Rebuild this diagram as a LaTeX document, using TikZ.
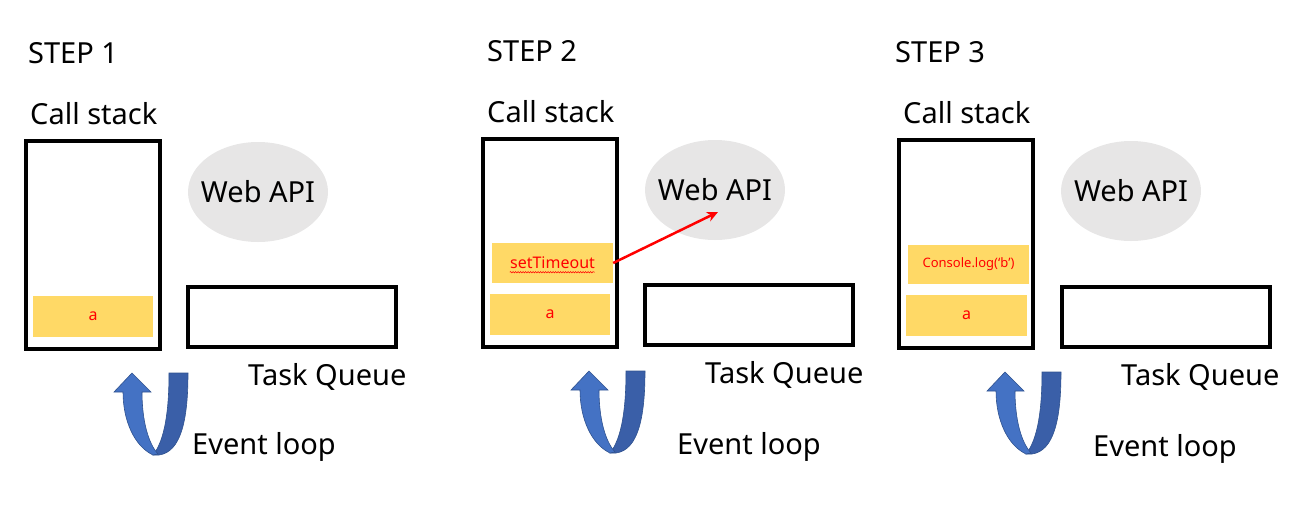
\documentclass[tikz,border=0pt]{standalone}
\usepackage{fontspec}
\setmainfont{Noto Sans}
\usetikzlibrary{arrows.meta,decorations.pathmorphing}

\definecolor{jobyellow}{HTML}{FFD966}
\definecolor{apigray}{HTML}{E7E6E6}
\definecolor{loopblue}{HTML}{4472C4}
\definecolor{loopdark}{HTML}{3A5FA8}
\definecolor{loopedge}{HTML}{2F528F}

\tikzset{
  bigtext/.style={font=\fontsize{29}{31}\selectfont, anchor=base west, inner sep=0pt},
  stackbox/.style={draw, line width=4pt, minimum width=134pt, minimum height=208pt, inner sep=0pt},
  queuebox/.style={draw, line width=4pt, minimum width=208pt, minimum height=60pt, inner sep=0pt},
  apitext/.style={inner sep=0pt, font=\fontsize{29}{31}\selectfont},
  job/.style={fill=jobyellow, text=red, minimum width=121pt, minimum height=41pt, inner sep=0pt, font=\fontsize{16}{18}\selectfont},
  loopback/.style={fill=loopdark, draw=loopedge, line width=0.6pt},
  loopfront/.style={fill=loopblue, draw=loopedge, line width=0.6pt},
}

\begin{document}
\begin{tikzpicture}[x=1pt,y=-1pt]
\useasboundingbox (0,0) rectangle (1314,520);

% paso 1
\begin{scope}
  \node[bigtext] (step1) at (28,63) {STEP 1};
  \node[bigtext] (calltxt1) at (30,124) {Call stack};
  \node[stackbox] (stack1) at (93,245) {};
  \fill[apigray] (258,192) ellipse [x radius=70pt, y radius=50pt];
  \node[apitext] (api1) at (258,192) {Web API};
  \node[queuebox] (queue1) at (292,317) {};
  \node[bigtext] (queuetxt1) at (248,385) {Task Queue};
  \node[job, minimum width=120pt] (a1) at (93,316.5) {a};
  % event loop
  \draw[loopback] (169,373) -- (188,373) .. controls (188,420) and (181,452) .. (159,455)
    -- (153,455) .. controls (165,440) and (169,410) .. (169,373) -- cycle;
  \draw[loopfront] (132,373) -- (151,392) -- (142,392) .. controls (142,420) and (148,443) .. (158,454)
    -- (153,455) .. controls (134,446) and (123,420) .. (123,392) -- (114,392) -- cycle;
  \node[bigtext] (looptxt1) at (192,454) {Event loop};
\end{scope}

% paso 2
\begin{scope}[shift={(457,-2)}]
  \node[bigtext] (step2) at (30,63) {STEP 2};
  \node[bigtext] (calltxt2) at (30,124) {Call stack};
  \node[stackbox] (stack2) at (93,245) {};
  \fill[apigray] (258,192) ellipse [x radius=70pt, y radius=50pt];
  \node[apitext] (api2) at (258,192) {Web API};
  \node[queuebox] (queue2) at (292,317) {};
  \node[bigtext] (queuetxt2) at (248,385) {Task Queue};
  \node[job, minimum width=120pt] (a2) at (93,316) {a};
  \node[job, minimum height=40pt] (st2) at (95.5,265) {setTimeout};
  \draw[red, line width=0.5pt, decorate, decoration={snake, amplitude=0.7pt, segment length=2.5pt}]
    (st2.south west) ++(18,-11) -- ++(85,0);
  % hacia la web api
  \coordinate (apitip2) at (261,214);
  \draw[red, line width=2.5pt, -{Stealth[length=11pt, width=10pt]}] (st2.east) -- (apitip2);
  % event loop
  \draw[loopback] (169,373) -- (188,373) .. controls (188,420) and (181,452) .. (159,455)
    -- (153,455) .. controls (165,440) and (169,410) .. (169,373) -- cycle;
  \draw[loopfront] (132,373) -- (151,392) -- (142,392) .. controls (142,420) and (148,443) .. (158,454)
    -- (153,455) .. controls (134,446) and (123,420) .. (123,392) -- (114,392) -- cycle;
  \node[bigtext] (looptxt2) at (220,456) {Event loop};
\end{scope}

% paso 3
\begin{scope}[shift={(873,-1)}]
  \node[bigtext] (step3) at (22,63) {STEP 3};
  \node[bigtext] (calltxt3) at (30,124) {Call stack};
  \node[stackbox] (stack3) at (93,245) {};
  \fill[apigray] (258,192) ellipse [x radius=70pt, y radius=50pt];
  \node[apitext] (api3) at (258,192) {Web API};
  \node[queuebox] (queue3) at (293,318) {};
  \node[bigtext] (queuetxt3) at (248,386) {Task Queue};
  \node[job] (a3) at (93.5,316.5) {a};
  \node[job, minimum height=39pt, font=\fontsize{13}{15}\selectfont] (cl3) at (95.5,265.5) {Console.log(‘b’)};
  % event loop
  \draw[loopback] (169,373) -- (188,373) .. controls (188,420) and (181,452) .. (159,455)
    -- (153,455) .. controls (165,440) and (169,410) .. (169,373) -- cycle;
  \draw[loopfront] (132,373) -- (151,392) -- (142,392) .. controls (142,420) and (148,443) .. (158,454)
    -- (153,455) .. controls (134,446) and (123,420) .. (123,392) -- (114,392) -- cycle;
  \node[bigtext] (looptxt3) at (220,457) {Event loop};
\end{scope}

\end{tikzpicture}
\end{document}
